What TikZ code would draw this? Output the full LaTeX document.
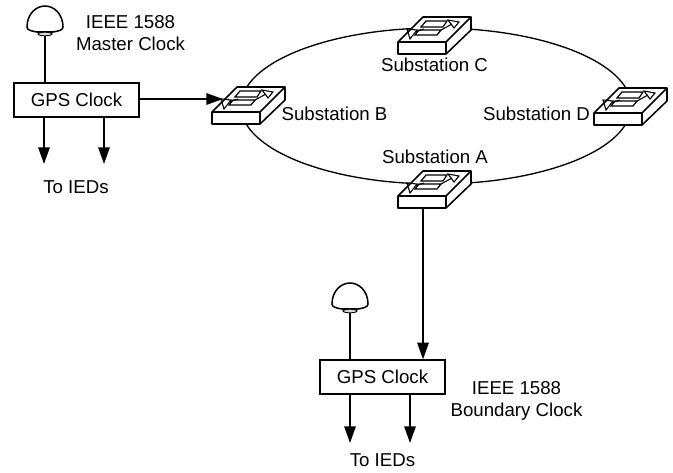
\documentclass[tikz,border=0pt]{standalone}
\usepackage{fontspec}
\setmainfont{Liberation Sans}
\usetikzlibrary{arrows.meta}

\tikzset{
  clockbox/.style={draw,line width=1.4pt,fill=white,minimum width=94pt,minimum height=25pt,inner sep=0pt},
  lbl/.style={inner sep=0pt,align=center},
  feed/.style={line width=1.4pt,-{Triangle[length=12.5pt,width=8.5pt]}},
}

% switch icon, #2,#3 = front left corner of the top face
\newcommand{\switchicon}[3]{
  \begin{scope}[shift={(#2,#3)},line width=1.15pt]
    \filldraw[fill=white,line join=round] (0,0) -- (25,-25) -- (73,-25) -- (73,-12) -- (48,12) -- (0,12) -- cycle;
    \draw (0,0) -- (48,0) -- (73,-25) (48,0) -- (48,12);
    \draw[line width=.9pt] (28,-21) -- (49,-21) -- (45,-15) -- (23,-15) -- cycle
      (21,-12) -- (43,-12) -- (39,-7) -- (17,-7) -- cycle;
    \draw[line width=.8pt] (9,-13) -- (19,-12) -- (12,-3) -- cycle (17,-10) -- (26,-13)
      (61,-20) -- (50,-22) -- (56,-14) -- cycle (54,-18) -- (43,-12);
    \coordinate (#1) at (25,12);
    \coordinate (#1in) at (11,-13);
  \end{scope}
}

% antenna dome, #2,#3 = middle of its flat side
\newcommand{\domeicon}[3]{
  \begin{scope}[shift={(#2,#3)},line width=1.15pt]
    \draw (-18,-5) .. controls (-18,-18) and (-9,-26) .. (0,-26)
      .. controls (9,-26) and (18,-18) .. (18,-5)
      .. controls (18,-2) and (14,-1) .. (8,0) -- (-8,0)
      .. controls (-14,-1) and (-18,-2) .. (-18,-5) -- cycle;
    \filldraw[fill=black!15,line width=.7pt] (0,2) circle[x radius=7,y radius=1.8];
    \coordinate (#1) at (0,4);
  \end{scope}
}

\begin{document}
\begin{tikzpicture}
  [x=.75pt,y=-.75pt,every node/.append style={font=\fontsize{14}{16.5}\selectfont}]
  \useasboundingbox (0,0) rectangle (673,472);
  \coordinate (ringc) at (436,106);
  \draw[line width=1pt] (ringc) circle[x radius=195,y radius=78];

  \switchicon{swB}{212}{112}
  \switchicon{swC}{398}{42}
  \switchicon{swD}{594}{113}
  \switchicon{swA}{398}{196}
  \domeicon{domeM}{45}{32}
  \domeicon{domeB}{350}{309}

  \node[clockbox] (gpsM) at (76.5,100) {GPS Clock};
  \node[clockbox] (gpsB) at (382.5,377) {GPS Clock};

  \node[lbl] (master) at (130.5,33) {IEEE 1588\\Master Clock};
  \node[lbl] (boundary) at (516.5,400.5) {IEEE 1588\\Boundary Clock};
  \node[lbl] (iedM) at (76,187) {To IEDs};
  \node[lbl] (iedB) at (382.5,460) {To IEDs};
  \node[lbl] (nameA) at (435,157) {Substation A};
  \node[lbl] (nameB) at (334.5,114) {Substation B};
  \node[lbl] (nameC) at (434.5,65) {Substation C};
  \node[lbl] (nameD) at (536.5,114) {Substation D};

  \coordinate (outM1) at (44,164);
  \coordinate (outM2) at (104,164);
  \coordinate (outB1) at (350,443);
  \coordinate (outB2) at (410,443);

  \draw[line width=1.4pt] (domeM) -- (gpsM.north -| domeM);
  \draw[line width=1.4pt] (domeB) -- (gpsB.north -| domeB);
  \begin{scope}[feed]
    \foreach \to in {outM1,outM2}
    \draw (gpsM.south -| \to) -- (\to);
    \foreach \to in {outB1,outB2}
    \draw (gpsB.south -| \to) -- (\to);
    \draw (gpsM.east |- swBin) -- (swBin);
    \draw (swA) -- (gpsB.north -| swA);
  \end{scope}
\end{tikzpicture}
\end{document}
